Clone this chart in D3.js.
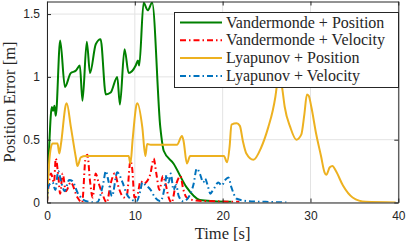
<!DOCTYPE html>
<html>
<head>
<meta charset="utf-8">
<script src="https://cdn.jsdelivr.net/npm/d3@7"></script>
<style>
  body { margin: 0; background: #fff; }
  svg { display: block; }
</style>
</head>
<body>
<div id="chart"></div>
<script>
// Vandermonde + Position
const vpT = [0, 0.25, 0.55, 0.7, 0.85, 1.0, 1.5, 2.04, 2.7, 3.3, 3.74, 4.04, 4.53, 4.9, 5.55, 6.1, 6.7, 7.25, 8.0, 8.3, 8.83, 9.3, 10.1, 10.35, 10.5, 11.0, 11.47, 11.97, 12.9, 13.3, 14.4, 15.9, 17.4, 19, 21];
const vpE = [0, 0.45, 0.76, 0.73, 0.77, 0.69, 1.29, 0.92, 1.03, 1.05, 1.09, 0.81, 1.28, 1.03, 1.26, 1.30, 0.86, 0.875, 1.0, 0.78, 1.22, 1.03, 1.09, 1.13, 1.09, 1.59, 1.53, 1.59, 0.6, 0.41, 0.31, 0.12, 0.02, 0.01, 0.005];
// Vandermonde + Velocity
const vvT = [0, 0.45, 0.8, 1.0, 1.3, 1.5, 1.78, 2.15, 2.7, 3.47, 4.0, 4.4, 4.6, 4.9, 5.2, 5.55, 5.9, 6.3, 6.8, 7.25, 7.7, 8.2, 8.76, 9.1, 9.5, 9.7, 9.96, 10.3, 10.65, 11.0, 11.4, 11.78, 12.15, 12.45, 12.8, 13.2, 13.5, 13.85, 14.2, 14.6, 15.2, 15.5, 15.9, 17, 19, 21.9];
const vvE = [0, 0.23, 0.16, 0.35, 0.2, 0.07, 0.23, 0.09, 0.16, 0.04, 0.0, 0.36, 0.38, 0.17, 0.04, 0.23, 0.15, 0.07, 0.0, 0.15, 0.23, 0.11, 0.04, 0.06, 0.33, 0.27, 0.04, 0.06, 0.17, 0.15, 0.17, 0.23, 0.35, 0.23, 0.1, 0.21, 0.15, 0.04, 0.0, 0.12, 0.21, 0.11, 0.04, 0.015, 0.01, 0.005];
// Lyapunov + Position
const lpT = [0, 0.26, 0.45, 0.64, 1.2, 1.4, 1.6, 2.15, 2.25, 2.72, 3.28, 3.47, 3.85, 4.4, 9.3, 9.5, 9.75, 10.2, 10.3, 10.85, 11.2, 11.4, 11.8, 14.8, 15.37, 15.55, 15.93, 16.3, 16.8, 20.15, 20.5, 20.8, 21.0, 21.6, 21.96, 22.3, 22.7, 23.5, 24.4, 25.2, 25.7, 26.0, 26.2, 26.5, 26.8, 27.07, 27.7, 28.4, 28.95, 29.3, 29.6, 29.8, 30.1, 30.65, 31.2, 31.6, 31.8, 32.2, 32.5, 32.9, 33.7, 34.8, 36.3, 39.7];
const lpE = [0, 0.33, 0.44, 0.47, 0.47, 0.39, 0.47, 0.78, 0.79, 0.6, 0.36, 0.29, 0.36, 0.37, 0.37, 0.31, 0.5, 0.78, 0.79, 0.6, 0.37, 0.465, 0.46, 0.46, 0.53, 0.49, 0.31, 0.37, 0.37, 0.37, 0.32, 0.45, 0.62, 0.63, 0.61, 0.49, 0.39, 0.34, 0.44, 0.6, 0.73, 0.84, 0.94, 1.02, 0.9, 0.76, 0.6, 0.5, 0.54, 0.7, 0.86, 0.85, 0.76, 0.545, 0.37, 0.24, 0.22, 0.28, 0.29, 0.25, 0.135, 0.04, 0.005, 0];
// Lyapunov + Velocity
const lvT = [0, 0.15, 0.64, 0.95, 1.28, 1.66, 2.0, 2.53, 2.9, 3.47, 4.0, 4.5, 5.7, 6.4, 6.7, 7.0, 7.4, 8.0, 8.6, 9.06, 9.7, 10.2, 10.65, 10.85, 11.2, 11.8, 12.3, 12.9, 13.5, 13.6, 13.85, 14.1, 14.4, 14.7, 15.0, 15.5, 16.1, 16.7, 17.05, 17.4, 17.8, 18.0, 18.3, 18.6, 18.9, 19.1, 19.5, 19.9, 20.3, 20.65, 21.0, 21.6, 23, 24.9, 27.3];
const lvE = [0, 0.13, 0.16, 0.1, 0.25, 0.15, 0.09, 0.18, 0.17, 0.08, 0.03, 0.01, 0.0, 0.15, 0.25, 0.17, 0.05, 0.24, 0.16, 0.07, 0.02, 0.01, 0.1, 0.16, 0.14, 0.1, 0.04, 0.01, 0.17, 0.22, 0.16, 0.23, 0.1, 0.14, 0.05, 0.01, 0.04, 0.15, 0.27, 0.23, 0.16, 0.19, 0.135, 0.07, 0.1, 0.12, 0.16, 0.135, 0.18, 0.2, 0.12, 0.03, 0.01, 0.005, 0];

const xTicks = [0, 10, 20, 30, 40];
const yTicks = [0, 0.5, 1, 1.5];
const seriesNames = ["Vandermonde + Position", "Vandermonde + Velocity", "Lyapunov + Position", "Lyapunov + Velocity"];

const width = 407, height = 245;
const margin = { top: 1.5, right: 8.7, bottom: 42.5, left: 47 };
const axColor = "#262626";

const svg = d3.select("#chart").append("svg").attr("width", width).attr("height", height);

const x = d3.scaleLinear().domain([0, 40]).range([margin.left, width - margin.right]);
const y = d3.scaleLinear().domain([0, 1.6]).range([height - margin.bottom, margin.top]);

// grid
svg.append("g").selectAll("line").data(xTicks).enter().append("line")
  .attr("x1", d => x(d)).attr("x2", d => x(d))
  .attr("y1", y(0)).attr("y2", y(1.6))
  .attr("stroke", "#e3e3e3").attr("stroke-width", 1);
svg.append("g").selectAll("line").data(yTicks).enter().append("line")
  .attr("x1", x(0)).attr("x2", x(40))
  .attr("y1", d => y(d)).attr("y2", d => y(d))
  .attr("stroke", "#e3e3e3").attr("stroke-width", 1);

svg.append("defs").append("clipPath").attr("id", "clip")
  .append("rect").attr("x", x(0)).attr("y", y(1.6))
  .attr("width", x(40) - x(0)).attr("height", y(0) - y(1.6));

const line = d3.line().x(d => x(d[0])).y(d => y(d[1])).curve(d3.curveMonotoneX);
const zip = (a, b) => a.map((t, i) => [t, b[i]]);

const series = [
  { name: seriesNames[0], data: zip(vpT, vpE), color: "#008000", dash: null },
  { name: seriesNames[1], data: zip(vvT, vvE), color: "#ff0000", dash: "6,3,1.5,3" },
  { name: seriesNames[2], data: zip(lpT, lpE), color: "#edb120", dash: null },
  { name: seriesNames[3], data: zip(lvT, lvE), color: "#0072bd", dash: "6,3,1.5,3" }
];

const plot = svg.append("g").attr("clip-path", "url(#clip)");
plot.selectAll("path").data(series).enter().append("path")
  .attr("d", d => line(d.data))
  .attr("fill", "none")
  .attr("stroke", d => d.color)
  .attr("stroke-width", 2)
  .attr("stroke-linejoin", "round")
  .attr("stroke-dasharray", d => d.dash);

// axes (MATLAB box with inward ticks)
function styleAxis(g) {
  g.attr("font-family", "Liberation Sans").attr("font-size", 12);
  g.select(".domain").attr("stroke", axColor);
  g.selectAll(".tick line").attr("stroke", axColor);
  g.selectAll(".tick text").attr("fill", axColor);
}
svg.append("g").attr("transform", `translate(0,${y(0)})`)
  .call(d3.axisBottom(x).tickValues(xTicks).tickSize(-4).tickPadding(9).tickSizeOuter(0))
  .call(styleAxis);
svg.append("g").attr("transform", `translate(0,${y(1.6)})`)
  .call(d3.axisTop(x).tickValues(xTicks).tickSize(-4).tickSizeOuter(0).tickFormat(""))
  .call(styleAxis);
svg.append("g").attr("transform", `translate(${x(0)},0)`)
  .call(d3.axisLeft(y).tickValues(yTicks).tickSize(-4).tickPadding(7).tickSizeOuter(0).tickFormat(d3.format("~g")))
  .call(styleAxis);
svg.append("g").attr("transform", `translate(${x(40)},0)`)
  .call(d3.axisRight(y).tickValues(yTicks).tickSize(-4).tickSizeOuter(0).tickFormat(""))
  .call(styleAxis);

// axis labels
svg.append("text")
  .attr("x", (x(0) + x(40)) / 2).attr("y", 239)
  .attr("text-anchor", "middle")
  .attr("font-family", "Liberation Serif").attr("font-size", 16.5).attr("fill", axColor)
  .text("Time [s]");
svg.append("text")
  .attr("transform", `translate(14.5,${(y(0) + y(1.6)) / 2}) rotate(-90)`)
  .attr("text-anchor", "middle")
  .attr("font-family", "Liberation Serif").attr("font-size", 16.5).attr("fill", axColor)
  .text("Position Error [m]");

// legend
const lg = svg.append("g").attr("transform", "translate(174,12)");
lg.append("rect").attr("x", 0.5).attr("y", 0.5).attr("width", 224).attr("height", 75)
  .attr("fill", "#fff").attr("stroke", axColor).attr("stroke-width", 1);
const rows = lg.selectAll("g.row").data(series).enter().append("g").attr("class", "row")
  .attr("transform", (d, i) => `translate(0,${10.5 + i * 17.8})`);
rows.append("line").attr("x1", 6).attr("x2", 48).attr("y1", 0).attr("y2", 0)
  .attr("stroke", d => d.color).attr("stroke-width", 2)
  .attr("stroke-dasharray", d => d.dash);
rows.append("text").attr("x", 52).attr("y", 5)
  .attr("font-family", "Liberation Serif").attr("font-size", 16).attr("fill", axColor)
  .text(d => d.name);
</script>
</body>
</html>
